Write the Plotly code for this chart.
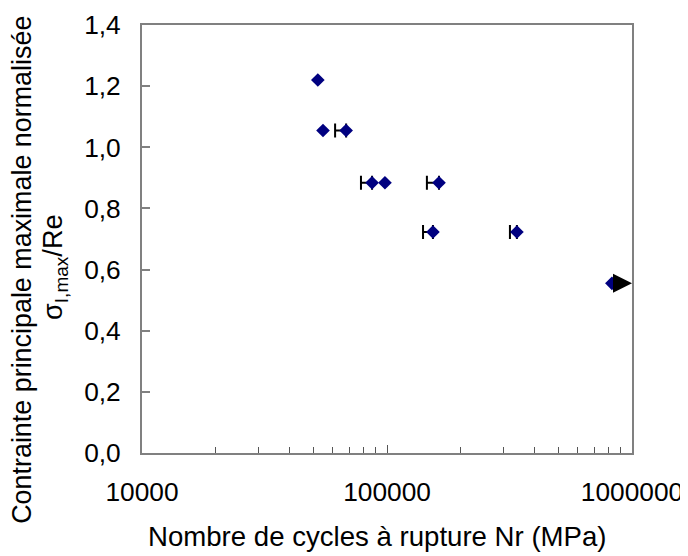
import plotly.graph_objects as go
import numpy as np

# Data
cycles = [52200, 54800, 68100, 86900, 98100, 163000, 154000, 339000, 828000]
stress = [1.22, 1.055, 1.055, 0.884, 0.884, 0.884, 0.723, 0.723, 0.555]
err_minus = [0, 0, 6700, 8600, 0, 17500, 13700, 21500, 0]

runout_cycles = [828000]
runout_stress = [0.555]
runout_end = [1000000]

x_tickvals = [10000, 100000, 1000000]
x_ticktext = ["10000", "100000", "1000000"]
y_tickvals = [0.0, 0.2, 0.4, 0.6, 0.8, 1.0, 1.2, 1.4]

x_title = "Nombre de cycles à rupture Nr (MPa)"
y_title_1 = "Contrainte principale maximale normalisée"
y_title_2 = "σ<sub>I,max</sub>/Re"

FONT = "Liberation Sans, Arial, sans-serif"
FS = 26.3

fig = go.Figure()

# error bars (minus side only) for points that have them
eb_x = [c for c, e in zip(cycles, err_minus) if e > 0]
eb_y = [s for s, e in zip(stress, err_minus) if e > 0]
eb_m = [e for e in err_minus if e > 0]
fig.add_trace(go.Scatter(
    x=eb_x, y=eb_y, mode="markers",
    marker=dict(size=1, color="rgba(0,0,0,0)"),
    error_x=dict(type="data", symmetric=False, array=[0] * len(eb_x),
                 arrayminus=eb_m, color="black", thickness=2, width=7),
    showlegend=False, hoverinfo="skip",
))

# run-out arrow
for xc, yc, xe in zip(runout_cycles, runout_stress, runout_end):
    fig.add_annotation(
        x=np.log10(xe), y=yc, ax=np.log10(xc), ay=yc,
        xref="x", yref="y", axref="x", ayref="y",
        text="", showarrow=True, arrowhead=2, arrowsize=1.9,
        arrowwidth=2, arrowcolor="black",
    )

fig.add_trace(go.Scatter(
    x=cycles, y=stress, mode="markers",
    marker=dict(symbol="diamond", size=10.5, color="#000080"),
    showlegend=False,
))

# axis titles as annotations
fig.add_annotation(text=x_title, xref="paper", yref="paper",
                   x=0.4806, y=-0.196, xanchor="center", yanchor="middle",
                   showarrow=False, font=dict(size=27.6))
fig.add_annotation(text=y_title_1, xref="paper", yref="paper",
                   x=-0.2449, y=0.428, xanchor="center", yanchor="middle",
                   textangle=-90, showarrow=False, font=dict(size=26.9))
fig.add_annotation(text=y_title_2, xref="paper", yref="paper",
                   x=-0.1776, y=0.4346, xanchor="center", yanchor="middle",
                   textangle=-90, showarrow=False, font=dict(size=27.2))

fig.update_layout(
    width=688, height=556,
    margin=dict(l=134, r=64, t=17, b=111),
    plot_bgcolor="white", paper_bgcolor="white",
    separators=", ",
    font=dict(family=FONT, size=FS, color="black"),
    showlegend=False,
)

fig.update_xaxes(
    type="log", range=[4, 6], automargin=False,
    tickvals=x_tickvals, ticktext=x_ticktext,
    ticks="inside", ticklen=8, tickcolor="#555555", tickwidth=1,
    minor=dict(ticks="inside", ticklen=6, tickcolor="#555555", dtick="D1"),
    showline=True, linecolor="#808080", linewidth=2, mirror=True,
    showgrid=False, zeroline=False,
    ticklabelstandoff=14,
    tickfont=dict(size=FS),
)
fig.update_yaxes(
    range=[0, 1.4], automargin=False,
    tickvals=y_tickvals, tickformat=".1f",
    ticks="inside", ticklen=8, tickcolor="#808080", tickwidth=2,
    showline=True, linecolor="#808080", linewidth=2, mirror=True,
    showgrid=False, zeroline=False,
    ticklabelstandoff=14,
    tickfont=dict(size=FS),
)

fig.write_html("out.html")
